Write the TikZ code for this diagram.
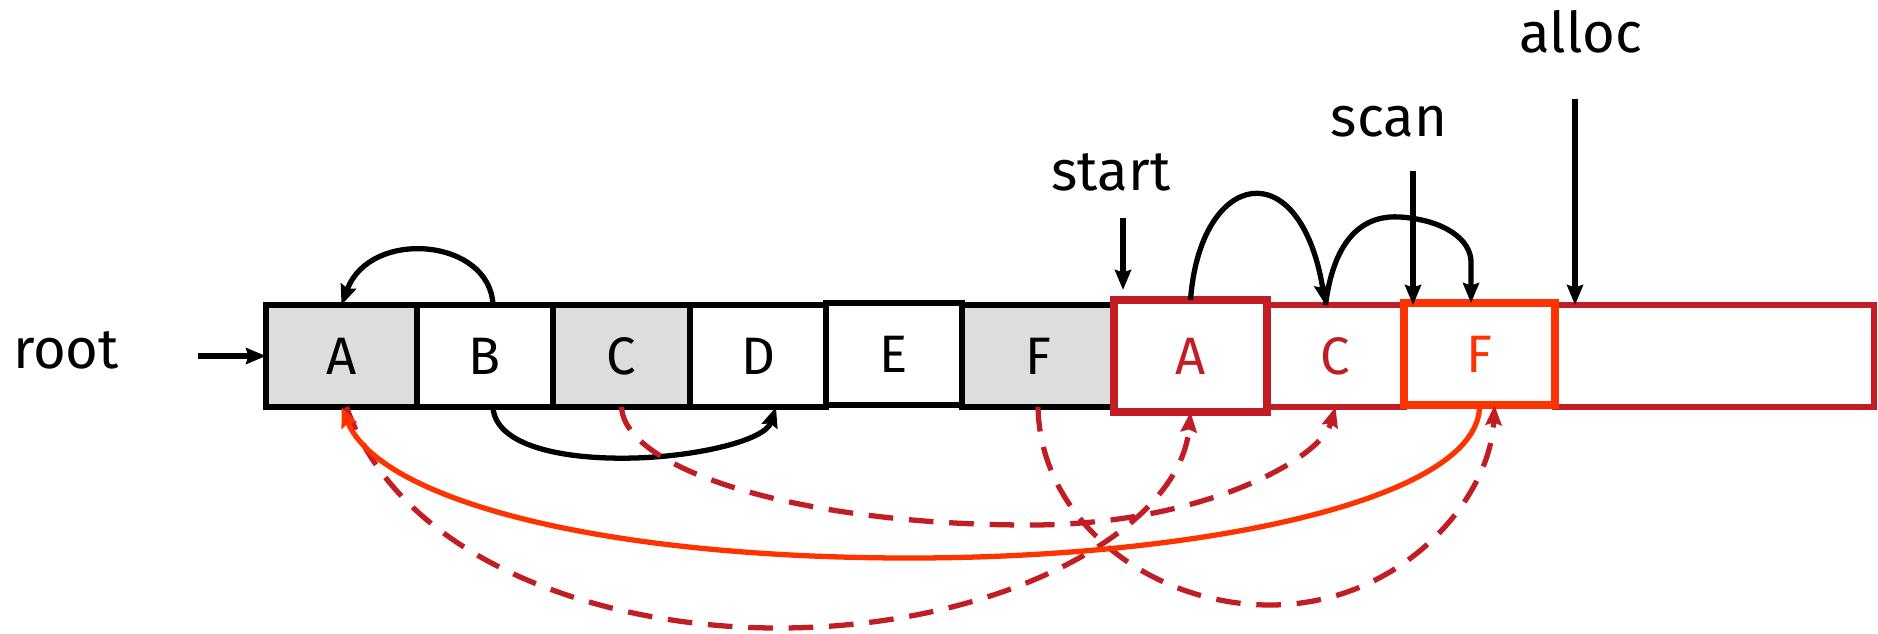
\documentclass[tikz,border=0pt]{standalone}
\usepackage{fontspec}
\setmainfont{Fira Sans}
\usetikzlibrary{calc, arrows.meta}

\definecolor{darkred}{RGB}{192,30,36}
\definecolor{hotred}{RGB}{255,51,0}
\definecolor{cellgray}{RGB}{221,221,221}

\tikzset{
	cell/.style={draw, line width=3.6pt, minimum height=2.04cm, inner sep=0pt, outer sep=0pt, font=\fontsize{30}{36}\selectfont},
	lbl/.style={font=\fontsize{32}{38}\selectfont},
	ptr/.style={line width=3pt, -{Stealth[length=0.4cm, width=0.32cm, inset=0.05cm]}},
	fwd/.style={ptr, darkred, dash pattern=on 14pt off 9pt},
}

\begin{document}
\begin{tikzpicture}[x=0.02cm, y=-0.02cm]
	\useasboundingbox (0,0) rectangle (1878,633);

	% from-space
	\node[cell, fill=cellgray, minimum width=3.02cm] (A) at (341.5,356) {A};
	\node[cell, minimum width=2.72cm] (B) at (485,356) {B};
	\node[cell, fill=cellgray, minimum width=2.74cm] (C) at (621.5,356) {C};
	\node[cell, minimum width=2.72cm] (D) at (758,356) {D};
	\node[cell, minimum width=2.72cm] (E) at (894,354) {E};
	\node[cell, fill=cellgray, minimum width=3.04cm] (F) at (1038,356) {F};

	% to-space
	\node[cell, draw=darkred, minimum width=6.38cm] (free) at (1714.5,356) {};
	\node[cell, draw=darkred, text=darkred, minimum width=2.74cm] (rC) at (1335.5,356) {C};
	\node[cell, draw=darkred, text=darkred, line width=4.8pt, minimum width=3.06cm, minimum height=2.24cm] (rA) at (1190.5,356) {A};
	\node[cell, draw=hotred, text=hotred, line width=4.2pt, minimum width=3.02cm] (rF) at (1479.5,354) {F};

	\node[lbl] (root) at (66,350) {root};
	\node[lbl] (start) at (1111,172) {start};
	\node[lbl] (scan) at (1389,122) {scan};
	\node[lbl] (alloc) at (1581,32) {alloc};

	\coordinate (r0) at (198,356);
	\coordinate (s0) at (1123,218); \coordinate (s1) at (1123,290);
	\coordinate (c0) at (1413,171);
	\coordinate (a0) at (1575,99);
	\draw[ptr] (r0) -- (A.west);
	\draw[ptr] (s0) -- (s1);
	\draw[ptr] (c0) -- (c0 |- rC.north);
	\draw[ptr] (a0) -- (a0 |- free.north);

	% pointers above the row
	\draw[ptr] ($(B.north)+(8,0)$) .. controls (490,238) and (370,228) .. (A.north);
	\draw[ptr] (rA.north) .. controls (1200,170) and (1300,150) .. ($(rC.north)+(-10,0)$);
	\draw[ptr] ($(rC.north)+(-10,0)$) .. controls (1335,230) and (1370,215) .. (1400,217)
		.. controls (1445,220) and (1471,240) .. (1471,262) -- ($(rF.north)+(-8.5,0)$);

	% pointers below the row
	\draw[ptr] ($(B.south)+(8,0)$) .. controls (495,445) and (560,460) .. (635,458)
		.. controls (700,456) and (765,440) .. ($(D.south)+(18,0)$);
	\draw[fwd] (C.south) .. controls (625,470) and (800,525) .. (1030,525)
		.. controls (1200,525) and (1320,460) .. (rC.south);
	\draw[fwd] (F.south) .. controls (1040,520) and (1150,605) .. (1270,605)
		.. controls (1400,605) and (1490,500) .. ($(rF.south)+(15,0)$);
	\draw[fwd] ($(A.south)+(5,0)$) .. controls (400,560) and (600,628) .. (778,628)
		.. controls (1000,628) and (1180,530) .. (rA.south);
	\draw[ptr, hotred] (rF.south) .. controls (1481,500) and (1200,558) .. (910,558)
		.. controls (600,558) and (380,500) .. (A.south);
\end{tikzpicture}
\end{document}
